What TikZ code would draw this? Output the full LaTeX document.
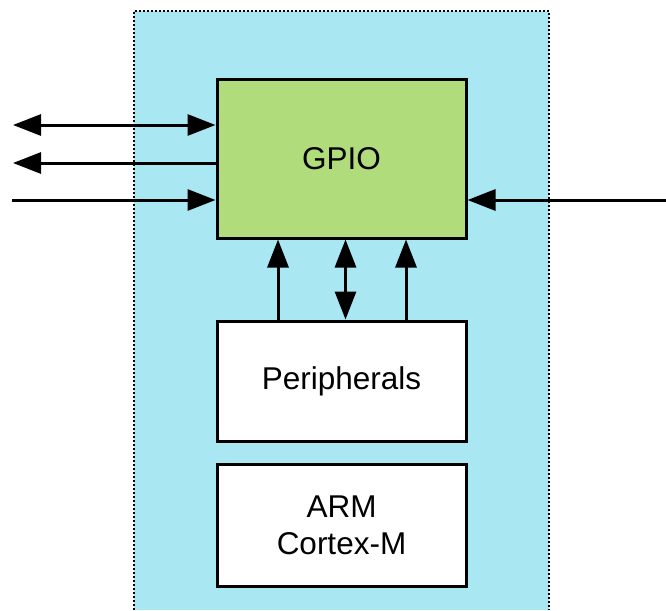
\documentclass[tikz,border=0pt]{standalone}
\usepackage{fontspec}
\setmainfont{Liberation Sans}
\usetikzlibrary{arrows.meta}
\definecolor{chipblue}{RGB}{169,231,243}
\definecolor{gpiogreen}{RGB}{176,220,124}
\begin{document}
\begin{tikzpicture}[x=1pt,y=-1pt,
  blk/.style={draw=black,line width=3pt,minimum width=249pt,inner sep=0pt,align=center,font=\fontsize{31.5}{37}\selectfont},
  tipA/.tip={Triangle[length=28pt,width=21pt]},
  sig/.style={line width=3pt,-tipA},
  dsig/.style={line width=3pt,tipA-tipA},
  chipborder/.style={line width=1.3pt,dash pattern=on 2pt off 2pt}
]
\useasboundingbox (0,0) rectangle (666,610);
% chip area
\fill[chipblue] (134,11) rectangle (549,610);
\draw[chipborder] (134,610) -- (134,11) -- (549,11) -- (549,610);
% blocks
\node[blk,fill=gpiogreen,minimum height=159pt] (gpio) at (341.5,158.5) {GPIO};
\node[blk,fill=white,minimum height=120pt] (per) at (341.5,381) {Peripherals};
\node[blk,fill=white,minimum height=122pt] (arm) at (341.5,525) {ARM\\Cortex-M};
% external signals
\coordinate (l1) at (13,125);
\coordinate (l2) at (13,163);
\coordinate (l3) at (12,200);
\coordinate (r1) at (666,200);
\draw[dsig] (l1) -- (gpio.west |- l1);
\draw[sig] (gpio.west |- l2) -- (l2);
\draw[sig] (l3) -- (gpio.west |- l3);
\draw[sig] (r1) -- (gpio.east |- r1);
% internal signals
\coordinate (v1) at (278,280);
\coordinate (v2) at (345.5,280);
\coordinate (v3) at (406,280);
\draw[sig] (per.north -| v1) -- (gpio.south -| v1);
\draw[dsig] (per.north -| v2) -- (gpio.south -| v2);
\draw[sig] (per.north -| v3) -- (gpio.south -| v3);
\end{tikzpicture}
\end{document}
